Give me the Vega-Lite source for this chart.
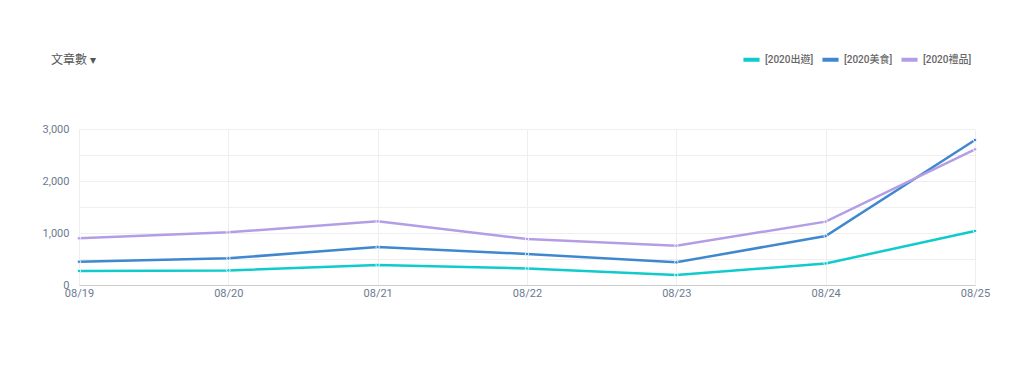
{
  "$schema": "https://vega.github.io/schema/vega-lite/v6.json",
  "width": 896,
  "height": 156,
  "autosize": {"type": "none"},
  "padding": {"left": 79, "top": 129, "right": 49, "bottom": 91},
  "background": "white",
  "config": {
    "font": "Roboto, Noto Sans CJK TC, sans-serif",
    "view": {"stroke": null}
  },
  "title": {
    "text": "文章數  ▾",
    "anchor": "start",
    "frame": "group",
    "orient": "top",
    "dx": -28,
    "dy": 18,
    "offset": 0,
    "fontSize": 12,
    "fontWeight": "normal",
    "color": "#555555",
    "font": "Noto Sans CJK TC"
  },
  "data": {
    "values": [
      {"date": "08/19", "series": "[2020出遊]", "value": 270},
      {"date": "08/20", "series": "[2020出遊]", "value": 280},
      {"date": "08/21", "series": "[2020出遊]", "value": 385},
      {"date": "08/22", "series": "[2020出遊]", "value": 317},
      {"date": "08/23", "series": "[2020出遊]", "value": 192},
      {"date": "08/24", "series": "[2020出遊]", "value": 413},
      {"date": "08/25", "series": "[2020出遊]", "value": 1038},
      {"date": "08/19", "series": "[2020美食]", "value": 448},
      {"date": "08/20", "series": "[2020美食]", "value": 513},
      {"date": "08/21", "series": "[2020美食]", "value": 731},
      {"date": "08/22", "series": "[2020美食]", "value": 596},
      {"date": "08/23", "series": "[2020美食]", "value": 436},
      {"date": "08/24", "series": "[2020美食]", "value": 942},
      {"date": "08/25", "series": "[2020美食]", "value": 2788},
      {"date": "08/19", "series": "[2020禮品]", "value": 897},
      {"date": "08/20", "series": "[2020禮品]", "value": 1013},
      {"date": "08/21", "series": "[2020禮品]", "value": 1224},
      {"date": "08/22", "series": "[2020禮品]", "value": 885},
      {"date": "08/23", "series": "[2020禮品]", "value": 756},
      {"date": "08/24", "series": "[2020禮品]", "value": 1218},
      {"date": "08/25", "series": "[2020禮品]", "value": 2609}
    ]
  },
  "encoding": {
    "x": {
      "field": "date",
      "type": "ordinal",
      "scale": {"type": "point", "padding": 0},
      "axis": {
        "title": null,
        "labelAngle": 0,
        "labelColor": "#6b7a8f",
        "labelFontSize": 11,
        "labelPadding": 2,
        "ticks": false,
        "domainColor": "#cccccc",
        "grid": true,
        "gridColor": "#eeeeee",
        "labelOverlap": false
      }
    },
    "y": {
      "field": "value",
      "type": "quantitative",
      "scale": {"domain": [0, 3000], "nice": false},
      "axis": {
        "title": null,
        "values": [0, 500, 1000, 1500, 2000, 2500, 3000],
        "labelExpr": "datum.value % 1000 == 0 ? format(datum.value, ',') : ''",
        "labelColor": "#6b7a8f",
        "labelFontSize": 11,
        "labelPadding": 10,
        "ticks": false,
        "domain": false,
        "gridColor": "#efefef"
      }
    },
    "color": {
      "field": "series",
      "type": "nominal",
      "scale": {
        "domain": ["[2020出遊]", "[2020美食]", "[2020禮品]"],
        "range": ["#0fcbcb", "#3f88d0", "#b59de6"]
      },
      "legend": {
        "title": null,
        "orient": "none",
        "legendX": 662,
        "legendY": -80,
        "direction": "horizontal",
        "symbolType": "stroke",
        "symbolStrokeWidth": 4,
        "symbolSize": 260,
        "labelFontSize": 10,
        "labelFontWeight": 500,
        "labelColor": "#666666",
        "labelFont": "Roboto, Noto Sans CJK TC",
        "columnPadding": 0,
        "labelOffset": 3
      }
    }
  },
  "layer": [
    {"mark": {"type": "line", "strokeWidth": 2.5}},
    {"mark": {"type": "point", "filled": true, "size": 12, "stroke": "white", "strokeWidth": 0.8, "opacity": 1}}
  ]
}
